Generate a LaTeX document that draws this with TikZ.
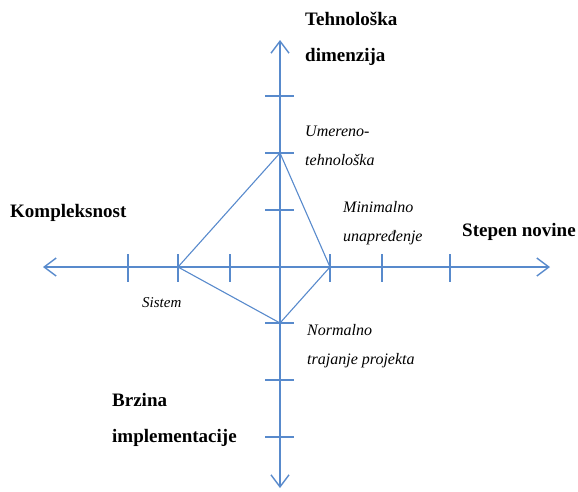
\documentclass[tikz,border=0pt]{standalone}
\usepackage{fontspec}
\setmainfont{Liberation Serif}
\usepackage{tikz}
\usetikzlibrary{arrows.meta}
\definecolor{axisblue}{RGB}{88,138,204}

\begin{document}
\begin{tikzpicture}[x=1pt, y=-1pt,
  axis/.style={draw=axisblue, line width=1.4pt},
  ticky/.style={draw=axisblue, line width=1.4pt},
  dimlbl/.style={inner sep=0pt, anchor=west, align=left, font=\fontsize{19}{36}\selectfont\bfseries},
  notelbl/.style={inner sep=0pt, anchor=west, align=left, font=\fontsize{16}{29}\selectfont\itshape}]
\useasboundingbox (0,0) rectangle (578,491);
\coordinate (xl) at (43,267);
\coordinate (xr) at (550,267);
\coordinate (yt) at (280,40);
\coordinate (yb) at (280,488);
\draw[axis, {Straight Barb[length=12pt,width=18pt]}-{Straight Barb[length=12pt,width=18pt]}] (xl) -- (xr);
\draw[axis, {Straight Barb[length=12pt,width=18pt]}-{Straight Barb[length=12pt,width=18pt]}] (yb) -- (yt);
\foreach \x in {128,178,230,330,382,450}
  \draw[ticky] (\x,254) -- (\x,282);
\foreach \y in {96,153,210,323,380,437}
  \draw[ticky] (265,\y) -- (294,\y);
% profil
\coordinate (dt) at (280,153);
\coordinate (dr) at (330,267);
\coordinate (db) at (280,323);
\coordinate (dl) at (178,267);
\draw[axisblue, line width=1.1pt] (dt) -- (dr) -- (db) -- (dl) -- cycle;
\node[dimlbl] (tehdim) at (305,39) {Tehnološka\\dimenzija};
\node[dimlbl] (komp) at (10,213) {Kompleksnost};
\node[dimlbl] (stepen) at (462,232) {Stepen novine};
\node[dimlbl] (brzina) at (112,420) {Brzina\\implementacije};
\node[notelbl] (umereno) at (305,146) {Umereno-\\tehnološka};
\node[notelbl] (minimalno) at (343,223) {Minimalno\\unapređenje};
\node[notelbl] (normalno) at (307,346) {Normalno\\trajanje projekta};
\node[notelbl, font=\fontsize{15}{18}\selectfont\itshape] (sistem) at (142,303) {Sistem};
\end{tikzpicture}
\end{document}
